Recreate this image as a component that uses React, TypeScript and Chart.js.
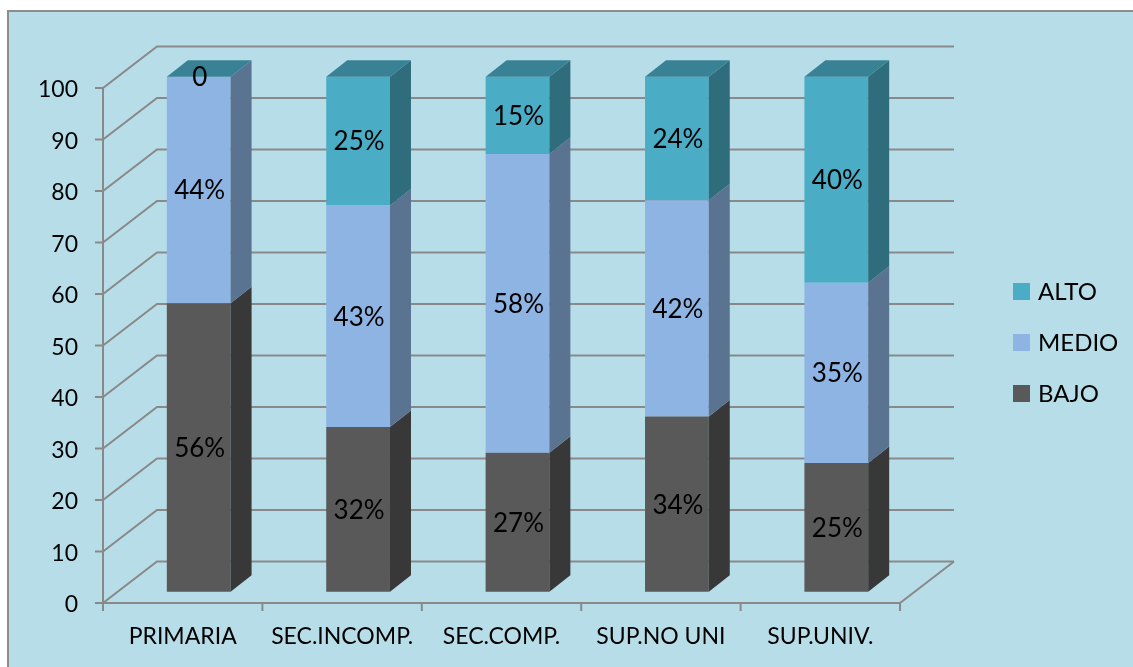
import React, { useEffect, useRef } from 'react';
import { Chart, registerables } from 'chart.js';

Chart.register(...registerables);

// ---- data ----
const categories = ['PRIMARIA', 'SEC.INCOMP.', 'SEC.COMP.', 'SUP.NO UNI', 'SUP.UNIV.'];
const seriesNames = ['BAJO', 'MEDIO', 'ALTO'];
const bajo = [56, 32, 27, 34, 25];
const medio = [44, 43, 58, 42, 35];
const alto = [0, 25, 15, 24, 40];
const yMin = 0;
const yMax = 100;
const yStep = 10;

// ---- styles ----
const frontColors = ['#595959', '#8EB4E3', '#4BACC6'];
const sideColors = ['#383838', '#5A7391', '#2F6D7C'];
const topColors = ['#404040', '#6F8DB3', '#398296'];
const FONT = 'Lato';
const WALL = { dx: 54, dy: -41.5 };
const BAR_SHIFT = { dx: 16, dy: -11.3 };
const BAR_DEPTH = { dx: 21, dy: -16.5 };
const LINE = '#898989';

const fmt = (v: number) => (v === 0 ? String(v) : v + '%');

const threeD = {
  id: 'threeD',
  beforeDraw(chart: any) {
    const ctx = chart.ctx as CanvasRenderingContext2D;
    const W = chart.width;
    const H = chart.height;
    ctx.save();
    ctx.fillStyle = '#ffffff';
    ctx.fillRect(0, 0, W, H);
    ctx.fillStyle = '#B7DEE8';
    ctx.fillRect(8, 11, W, H);
    ctx.strokeStyle = '#8c8c8c';
    ctx.lineWidth = 2;
    ctx.beginPath();
    ctx.moveTo(8, H + 5);
    ctx.lineTo(8, 11);
    ctx.lineTo(W + 5, 11);
    ctx.stroke();

    const { left, right, top, bottom } = chart.chartArea;
    const y = chart.scales.y;
    const x = chart.scales.x;
    ctx.strokeStyle = LINE;
    ctx.lineWidth = 2;
    ctx.lineJoin = 'miter';
    y.ticks.forEach((t: any) => {
      const py = y.getPixelForValue(t.value);
      ctx.beginPath();
      ctx.moveTo(left - 8, py);
      ctx.lineTo(left, py);
      ctx.lineTo(left + WALL.dx, py + WALL.dy);
      ctx.lineTo(right + WALL.dx, py + WALL.dy);
      ctx.stroke();
    });
    ctx.beginPath();
    ctx.moveTo(left, top);
    ctx.lineTo(left, bottom);
    ctx.lineTo(right, bottom);
    ctx.lineTo(right + WALL.dx, bottom + WALL.dy);
    ctx.stroke();
    const n = categories.length;
    const step = x.getPixelForValue(1) - x.getPixelForValue(0);
    for (let i = 0; i <= n; i++) {
      const px = x.getPixelForValue(0) - step / 2 + i * step;
      ctx.beginPath();
      ctx.moveTo(px, bottom);
      ctx.lineTo(px, bottom + 8);
      ctx.stroke();
    }
    ctx.restore();
  },
  beforeDatasetsDraw(chart: any) {
    const ctx = chart.ctx as CanvasRenderingContext2D;
    ctx.save();
    ctx.translate(BAR_SHIFT.dx, BAR_SHIFT.dy);
  },
  afterDatasetsDraw(chart: any) {
    const ctx = chart.ctx as CanvasRenderingContext2D;
    const nds = chart.data.datasets.length;
    for (let d = 0; d < nds; d++) {
      const meta = chart.getDatasetMeta(d);
      meta.data.forEach((el: any) => {
        const xL = el.x - el.width / 2;
        const xR = el.x + el.width / 2;
        const yT = Math.min(el.y, el.base);
        const yB = Math.max(el.y, el.base);
        ctx.fillStyle = sideColors[d];
        ctx.beginPath();
        ctx.moveTo(xR, yT);
        ctx.lineTo(xR + BAR_DEPTH.dx, yT + BAR_DEPTH.dy);
        ctx.lineTo(xR + BAR_DEPTH.dx, yB + BAR_DEPTH.dy);
        ctx.lineTo(xR, yB);
        ctx.closePath();
        ctx.fill();
        if (d === nds - 1) {
          ctx.fillStyle = topColors[d];
          ctx.beginPath();
          ctx.moveTo(xL, yT);
          ctx.lineTo(xL + BAR_DEPTH.dx, yT + BAR_DEPTH.dy);
          ctx.lineTo(xR + BAR_DEPTH.dx, yT + BAR_DEPTH.dy);
          ctx.lineTo(xR, yT);
          ctx.closePath();
          ctx.fill();
        }
      });
    }
    ctx.fillStyle = '#000';
    ctx.font = `26px ${FONT}`;
    ctx.textAlign = 'center';
    ctx.textBaseline = 'middle';
    for (let d = 0; d < nds; d++) {
      const meta = chart.getDatasetMeta(d);
      const vals = chart.data.datasets[d].data;
      meta.data.forEach((el: any, j: number) => {
        ctx.fillText(fmt(vals[j]), el.x + 1, (el.y + el.base) / 2 + 1);
      });
    }
    ctx.restore();
  },
  afterDraw(chart: any) {
    const ctx = chart.ctx as CanvasRenderingContext2D;
    ctx.save();
    ctx.font = `24px ${FONT}`;
    ctx.textAlign = 'left';
    ctx.textBaseline = 'middle';
    const ds = chart.data.datasets;
    const order = ds.map((_: any, i: number) => i).reverse();
    order.forEach((d: number, k: number) => {
      const cy = 291.5 + k * 51;
      ctx.fillStyle = frontColors[d];
      ctx.fillRect(1013, cy - 8.5, 17, 17);
      ctx.fillStyle = '#000';
      ctx.fillText(ds[d].label, 1038, cy + 1);
    });
    ctx.restore();
  },
};

export default function App() {
  const ref = useRef<HTMLCanvasElement>(null);
  useEffect(() => {
    document.body.style.margin = '0';
    const chart = new Chart(ref.current as HTMLCanvasElement, {
      type: 'bar',
      data: {
        labels: categories,
        datasets: [bajo, medio, alto].map((vals, i) => ({
          label: seriesNames[i],
          data: vals,
          backgroundColor: frontColors[i],
          borderWidth: 0,
          barPercentage: 0.4,
          categoryPercentage: 1,
          clip: false as any,
        })),
      },
      options: {
        responsive: false,
        maintainAspectRatio: false,
        animation: false,
        devicePixelRatio: 1,
        layout: { padding: { left: 0, right: 233, top: 88, bottom: 0 } },
        plugins: { legend: { display: false }, tooltip: { enabled: false } },
        scales: {
          x: {
            stacked: true,
            grid: { display: false, drawTicks: false, tickLength: 0 },
            border: { display: false },
            ticks: { font: { family: FONT, size: 23 }, color: '#000', padding: 20, maxRotation: 0, autoSkip: false },
            afterFit: (s: any) => {
              s.height = 64;
            },
          },
          y: {
            stacked: true,
            min: yMin,
            max: yMax,
            grid: { display: false, drawTicks: false, tickLength: 0 },
            border: { display: false },
            ticks: { stepSize: yStep, font: { family: FONT, size: 23 }, color: '#000', padding: 25, labelOffset: 2 },
            afterFit: (s: any) => {
              s.width = 103;
            },
          },
        },
      },
      plugins: [threeD],
    });
    return () => chart.destroy();
  }, []);
  return (
    <div style={{ position: 'absolute', left: 0, top: 0, width: 1133, height: 667 }}>
      <canvas ref={ref} width={1133} height={667} style={{ display: 'block' }} />
    </div>
  );
}
